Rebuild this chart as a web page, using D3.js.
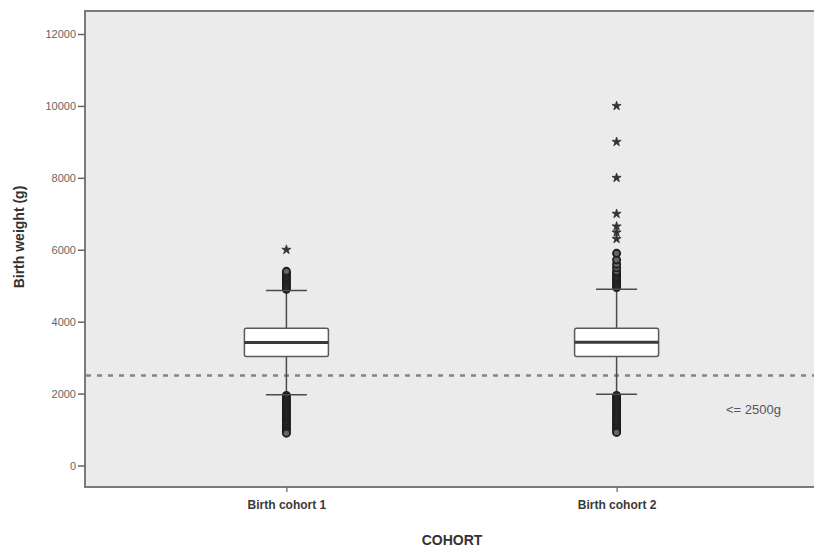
<!DOCTYPE html>
<html>
<head>
<meta charset="utf-8">
<script src="https://cdn.jsdelivr.net/npm/d3@7"></script>
<style>
  body { margin: 0; background: #fff; }
  svg { display: block; font-family: Arial, "Liberation Sans", sans-serif; }
</style>
</head>
<body>
<div id="chart"></div>
<script>
// data
var cohorts = ["Birth cohort 1", "Birth cohort 2"];
var q1 = [3030, 3030];
var medians = [3420, 3430];
var q3 = [3820, 3820];
var whiskerLow = [1970, 1980];
var whiskerHigh = [4870, 4900];
// mild outliers (circles)
var outliers1 = [4900, 4950, 5000, 5050, 5100, 5150, 5200, 5250, 5300, 5350, 5400,
  1950, 1900, 1850, 1800, 1750, 1700, 1650, 1600, 1550, 1500, 1450, 1400, 1350, 1300,
  1250, 1200, 1150, 1100, 1050, 1000, 950, 900];
var outliers2 = [4950, 5000, 5050, 5100, 5150, 5200, 5250, 5300, 5350, 5400, 5500, 5600, 5720, 5900,
  1950, 1900, 1850, 1800, 1750, 1700, 1650, 1600, 1550, 1500, 1450, 1400, 1350, 1300,
  1250, 1200, 1150, 1100, 1050, 1000, 950, 920];
// extreme values (stars)
var extremes1 = [6000];
var extremes2 = [6300, 6480, 6650, 7000, 8000, 9000, 10000];
var yTicks = [0, 2000, 4000, 6000, 8000, 10000, 12000];
var cutoff = 2500;

var svgWidth = 814;
var svgHeight = 547;

var svg = d3.select("#chart").append("svg")
  .attr("width", svgWidth)
  .attr("height", svgHeight);

var plot = { left: 85, top: 11, right: 818, bottom: 487 };

var x = d3.scalePoint()
  .domain(cohorts)
  .range([plot.left, plot.right])
  .padding(0.61);

var y = d3.scaleLinear()
  .domain([0, 12000])
  .range([465.5, 34]);

// plot background + frame
svg.append("rect")
  .attr("x", plot.left)
  .attr("y", plot.top)
  .attr("width", plot.right - plot.left)
  .attr("height", plot.bottom - plot.top)
  .attr("fill", "#ebebec")
  .attr("stroke", "#7a7a7a")
  .attr("stroke-width", 2);

// y axis
var yAxis = svg.append("g")
  .attr("transform", `translate(${plot.left}, 0)`)
  .call(d3.axisLeft(y).tickValues(yTicks).tickSize(7).tickPadding(2).tickFormat(d3.format("d")));
yAxis.select(".domain").remove();
yAxis.selectAll(".tick line").attr("stroke", "#666").attr("stroke-width", 1.5);
yAxis.selectAll(".tick text")
  .attr("fill", "#666")
  .attr("font-size", "11px");

// x axis
var xAxis = svg.append("g")
  .attr("transform", `translate(0, ${plot.bottom})`)
  .call(d3.axisBottom(x).tickSize(5).tickPadding(8));
xAxis.select(".domain").remove();
xAxis.selectAll(".tick line").attr("stroke", "#666").attr("stroke-width", 1.2);
xAxis.selectAll(".tick text")
  .attr("fill", "#3a3a3a")
  .attr("font-size", "12px")
  .attr("font-weight", "bold");

// axis titles
svg.append("text")
  .attr("transform", `translate(24, 237) rotate(-90)`)
  .attr("text-anchor", "middle")
  .attr("font-size", "14px")
  .attr("font-weight", "bold")
  .attr("fill", "#333")
  .text("Birth weight (g)");

svg.append("text")
  .attr("x", 452)
  .attr("y", 545)
  .attr("text-anchor", "middle")
  .attr("font-size", "14px")
  .attr("font-weight", "bold")
  .attr("fill", "#333")
  .text("COHORT");

// cutoff line
svg.append("line")
  .attr("x1", plot.left + 1)
  .attr("x2", plot.right)
  .attr("y1", y(cutoff))
  .attr("y2", y(cutoff))
  .attr("stroke", "#858585")
  .attr("stroke-width", 2.5)
  .attr("stroke-dasharray", "5,6");

svg.append("text")
  .attr("x", 726)
  .attr("y", 414)
  .attr("font-size", "13px")
  .attr("fill", "#555")
  .text("<= 2500g");

var boxWidth = 84;
var capWidth = 41;
var stroke = "#4a4a4a";

cohorts.forEach(function(c, i) {
  var cx = x(c);
  var g = svg.append("g");

  // whiskers
  g.append("line")
    .attr("x1", cx).attr("x2", cx)
    .attr("y1", y(whiskerHigh[i])).attr("y2", y(q3[i]))
    .attr("stroke", stroke).attr("stroke-width", 1.5);
  g.append("line")
    .attr("x1", cx).attr("x2", cx)
    .attr("y1", y(q1[i])).attr("y2", y(whiskerLow[i]))
    .attr("stroke", stroke).attr("stroke-width", 1.5);

  // outliers
  var outs = i === 0 ? outliers1 : outliers2;
  g.selectAll(".outlier")
    .data(outs)
    .enter()
    .append("circle")
    .attr("cx", cx)
    .attr("cy", d => y(d))
    .attr("r", 3.6)
    .attr("fill", "#666")
    .attr("stroke", "#1e1e1e")
    .attr("stroke-width", 1.8);

  // caps
  [whiskerHigh[i], whiskerLow[i]].forEach(function(v) {
    g.append("line")
      .attr("x1", cx - capWidth / 2).attr("x2", cx + capWidth / 2)
      .attr("y1", y(v)).attr("y2", y(v))
      .attr("stroke", stroke).attr("stroke-width", 1.5);
  });

  var ext = i === 0 ? extremes1 : extremes2;
  g.selectAll(".extreme")
    .data(ext)
    .enter()
    .append("path")
    .attr("d", d3.symbol().type(d3.symbolStar).size(26))
    .attr("transform", d => `translate(${cx}, ${y(d)})`)
    .attr("fill", "#333")
    .attr("stroke", "#333")
    .attr("stroke-width", 0.8);

  // box
  g.append("rect")
    .attr("x", cx - boxWidth / 2)
    .attr("y", y(q3[i]))
    .attr("width", boxWidth)
    .attr("height", y(q1[i]) - y(q3[i]))
    .attr("rx", 2)
    .attr("fill", "#fff")
    .attr("stroke", "#5a5a5a")
    .attr("stroke-width", 1.5);

  g.append("line")
    .attr("x1", cx - boxWidth / 2).attr("x2", cx + boxWidth / 2)
    .attr("y1", y(medians[i])).attr("y2", y(medians[i]))
    .attr("stroke", "#3a3a3a").attr("stroke-width", 3);
});
</script>
</body>
</html>
